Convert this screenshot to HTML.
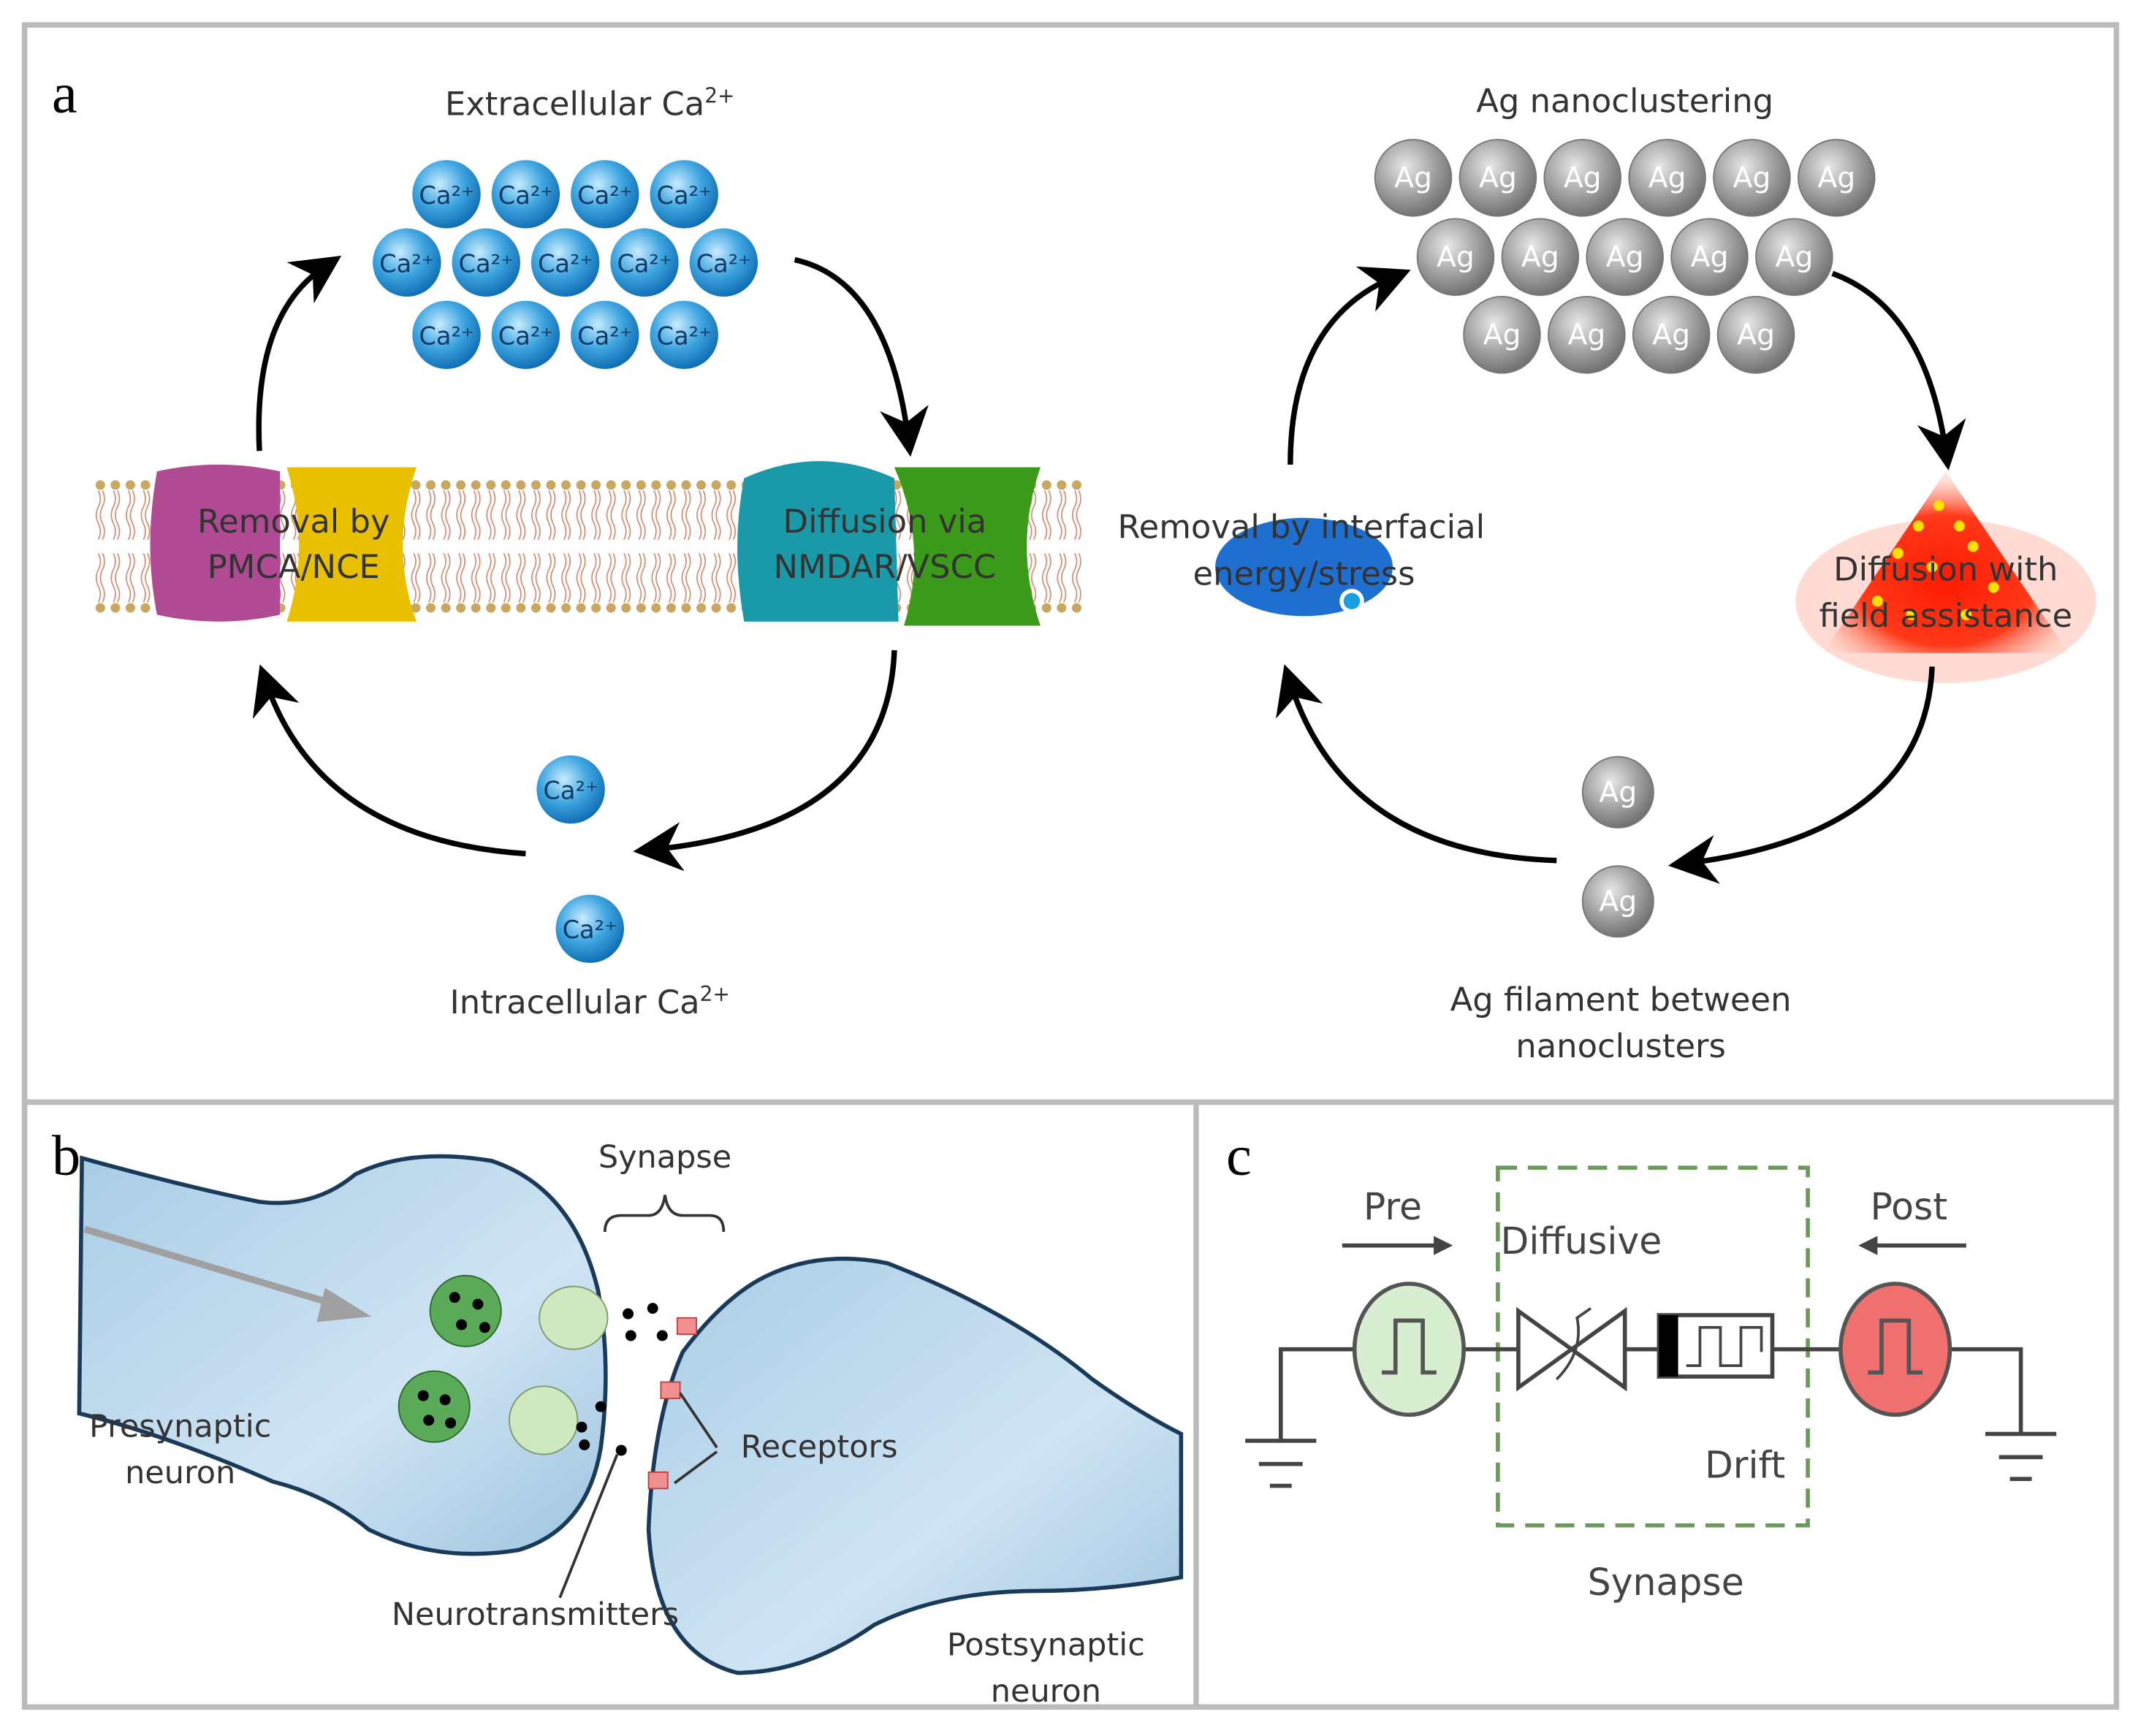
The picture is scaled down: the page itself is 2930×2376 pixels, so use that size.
<!DOCTYPE html>
<html><head><meta charset="utf-8"><style>
html,body{margin:0;padding:0;background:#fff}
svg{display:block}
text{font-family:"DejaVu Sans","Liberation Sans",sans-serif}
.s{font-family:"Liberation Serif",serif}
</style></head><body>
<svg width="2930" height="2376" viewBox="0 0 1568 1271" xmlns="http://www.w3.org/2000/svg">
<defs>
<radialGradient id="ca" cx="0.4" cy="0.35" r="0.7"><stop offset="0" stop-color="#c8ecff"/><stop offset="0.5" stop-color="#3fa6e0"/><stop offset="1" stop-color="#0b67b0"/></radialGradient>
<radialGradient id="ag" cx="0.4" cy="0.35" r="0.7"><stop offset="0" stop-color="#e8e8e8"/><stop offset="0.6" stop-color="#9a9a9a"/><stop offset="1" stop-color="#6a6a6a"/></radialGradient>
<radialGradient id="red" cx="0.5" cy="0.6" r="0.6"><stop offset="0" stop-color="#ff1a00"/><stop offset="0.6" stop-color="#ff3a1a"/><stop offset="1" stop-color="#ffd0c0" stop-opacity="0.3"/></radialGradient>
<linearGradient id="neu" x1="0" y1="0" x2="1" y2="1"><stop offset="0" stop-color="#a9cde6"/><stop offset="0.6" stop-color="#cfe4f3"/><stop offset="1" stop-color="#9ec4e0"/></linearGradient>
<marker id="ah" viewBox="0 0 10 10" refX="6" refY="5" markerWidth="9" markerHeight="9" orient="auto"><path d="M0,0 L10,5 L0,10 L3,5 z" fill="#000"/></marker>
<pattern id="lip" x="68" y="350" width="11" height="100" patternUnits="userSpaceOnUse">
<circle cx="5.5" cy="5" r="3.5" fill="#c8a860"/><circle cx="5.5" cy="95" r="3.5" fill="#c8a860"/>
<path d="M4,9 q3,6 0,12 q-3,6 0,12 q3,6 0,12 M7,9 q3,6 0,12 q-3,6 0,12 q3,6 0,12 M4,91 q3,-6 0,-12 q-3,-6 0,-12 q3,-6 0,-12 M7,91 q3,-6 0,-12 q-3,-6 0,-12 q3,-6 0,-12" stroke="#d08a70" stroke-width="0.9" fill="none"/>
</pattern>
</defs>
<rect width="1568" height="1271" fill="#fff"/>
<rect x="18" y="18" width="1532" height="1232" fill="none" stroke="#bbb" stroke-width="4"/>
<line x1="18" y1="807" x2="1550" y2="807" stroke="#bbb" stroke-width="4"/>
<line x1="876" y1="807" x2="876" y2="1250" stroke="#bbb" stroke-width="4"/>
<text x="38" y="82" class="s" font-size="42">a</text>
<text x="38" y="860" class="s" font-size="42">b</text>
<text x="898" y="860" class="s" font-size="42">c</text>

<text x="432" y="84" font-size="24" text-anchor="middle" fill="#333">Extracellular Ca<tspan font-size="15" dy="-9">2+</tspan></text>
<g fill="url(#ca)">
<circle cx="327" cy="142" r="25"/><circle cx="385" cy="142" r="25"/><circle cx="443" cy="142" r="25"/><circle cx="501" cy="142" r="25"/>
<circle cx="298" cy="192" r="25"/><circle cx="356" cy="192" r="25"/><circle cx="414" cy="192" r="25"/><circle cx="472" cy="192" r="25"/><circle cx="530" cy="192" r="25"/>
<circle cx="327" cy="245" r="25"/><circle cx="385" cy="245" r="25"/><circle cx="443" cy="245" r="25"/><circle cx="501" cy="245" r="25"/>
<circle cx="418" cy="578" r="25"/><circle cx="432" cy="680" r="25"/>
</g>
<g font-size="18" fill="#103a66" text-anchor="middle">
<text x="327" y="149">Ca²⁺</text><text x="385" y="149">Ca²⁺</text><text x="443" y="149">Ca²⁺</text><text x="501" y="149">Ca²⁺</text>
<text x="298" y="199">Ca²⁺</text><text x="356" y="199">Ca²⁺</text><text x="414" y="199">Ca²⁺</text><text x="472" y="199">Ca²⁺</text><text x="530" y="199">Ca²⁺</text>
<text x="327" y="252">Ca²⁺</text><text x="385" y="252">Ca²⁺</text><text x="443" y="252">Ca²⁺</text><text x="501" y="252">Ca²⁺</text>
<text x="418" y="585">Ca²⁺</text><text x="432" y="687">Ca²⁺</text>
</g>
<rect x="68" y="350" width="724" height="100" fill="url(#lip)"/>
<path d="M115,345 Q160,335 205,345 L205,450 Q160,460 115,450 Q105,400 115,345z" fill="#b04a92"/>
<path d="M210,342 L305,342 Q285,400 305,455 L210,455 Q228,400 210,342z" fill="#e8c000"/>
<path d="M545,350 Q600,325 655,350 L658,455 L545,455 Q535,400 545,350z" fill="#1a9aa8"/>
<path d="M655,342 L762,342 Q742,400 762,458 L662,458 Q680,400 655,342z" fill="#3c9a1a"/>
<g font-size="24" fill="#333" text-anchor="middle">
<text x="215" y="390">Removal  by</text><text x="215" y="423">PMCA/NCE</text>
<text x="648" y="390">Diffusion via</text><text x="648" y="423">NMDAR/VSCC</text>
<text x="432" y="742">Intracellular Ca<tspan font-size="15" dy="-9">2+</tspan></text>
</g>
<g fill="none" stroke="#000" stroke-width="4" marker-end="url(#ah)">
<path d="M190,330 Q185,230 238,195"/>
<path d="M582,190 Q650,205 665,320"/>
<path d="M655,476 Q650,605 478,622"/>
<path d="M385,625 Q235,615 195,500"/>
</g>

<text x="1190" y="82" font-size="24" text-anchor="middle" fill="#333">Ag nanoclustering</text>
<g fill="url(#ag)" stroke="#777" stroke-width="1">
<circle cx="1035" cy="130" r="28"/><circle cx="1097" cy="130" r="28"/><circle cx="1159" cy="130" r="28"/><circle cx="1221" cy="130" r="28"/><circle cx="1283" cy="130" r="28"/><circle cx="1345" cy="130" r="28"/>
<circle cx="1066" cy="188" r="28"/><circle cx="1128" cy="188" r="28"/><circle cx="1190" cy="188" r="28"/><circle cx="1252" cy="188" r="28"/><circle cx="1314" cy="188" r="28"/>
<circle cx="1100" cy="245" r="28"/><circle cx="1162" cy="245" r="28"/><circle cx="1224" cy="245" r="28"/><circle cx="1286" cy="245" r="28"/>
<circle cx="1185" cy="580" r="26"/><circle cx="1185" cy="660" r="26"/>
</g>
<g font-size="21" fill="#fff" text-anchor="middle">
<text x="1035" y="137">Ag</text><text x="1097" y="137">Ag</text><text x="1159" y="137">Ag</text><text x="1221" y="137">Ag</text><text x="1283" y="137">Ag</text><text x="1345" y="137">Ag</text>
<text x="1066" y="195">Ag</text><text x="1128" y="195">Ag</text><text x="1190" y="195">Ag</text><text x="1252" y="195">Ag</text><text x="1314" y="195">Ag</text>
<text x="1100" y="252">Ag</text><text x="1162" y="252">Ag</text><text x="1224" y="252">Ag</text><text x="1286" y="252">Ag</text>
<text x="1185" y="587">Ag</text><text x="1185" y="667">Ag</text>
</g>
<ellipse cx="955" cy="415" rx="65" ry="36" fill="#1e6fd0"/>
<circle cx="990" cy="440" r="9" fill="#fff"/><circle cx="990" cy="440" r="6" fill="#1aa0e0"/>
<ellipse cx="1425" cy="440" rx="110" ry="60" fill="#ffb8a8" opacity="0.5"/>
<path d="M1425,345 L1335,478 L1515,478z" fill="url(#red)"/>
<g fill="#ffe000"><circle cx="1420" cy="370" r="4"/><circle cx="1405" cy="385" r="4"/><circle cx="1435" cy="385" r="4"/><circle cx="1390" cy="405" r="4"/><circle cx="1445" cy="400" r="4"/><circle cx="1415" cy="415" r="4"/><circle cx="1440" cy="450" r="4"/><circle cx="1400" cy="450" r="4"/><circle cx="1375" cy="440" r="4"/><circle cx="1460" cy="430" r="4"/></g>
<g font-size="24" fill="#333" text-anchor="middle">
<text x="953" y="394">Removal by interfacial</text><text x="955" y="428">energy/stress</text>
<text x="1425" y="425">Diffusion with</text><text x="1425" y="459">field assistance</text>
<text x="1187" y="740">Ag filament between</text><text x="1187" y="774">nanoclusters</text>
</g>
<g fill="none" stroke="#000" stroke-width="4" marker-end="url(#ah)">
<path d="M945,340 Q945,235 1020,203"/>
<path d="M1342,200 Q1410,225 1425,330"/>
<path d="M1415,488 Q1410,610 1236,632"/>
<path d="M1140,630 Q985,625 945,500"/>
</g>

<path d="M60,848 Q140,870 190,880 Q230,885 260,860 Q300,840 360,850 Q420,870 438,945 Q448,1000 440,1060 Q430,1120 380,1135 Q320,1145 270,1120 Q240,1095 200,1085 Q120,1050 58,1035z" fill="url(#neu)" stroke="#1a3a5a" stroke-width="3"/>
<path d="M500,990 Q530,950 560,935 Q600,915 650,925 Q740,960 800,1010 Q835,1035 865,1050 L865,1155 Q810,1165 760,1165 Q690,1165 640,1190 Q590,1225 540,1225 Q480,1210 475,1120 Q478,1040 500,990z" fill="url(#neu)" stroke="#1a3a5a" stroke-width="3"/>
<path d="M62,900 L245,955" stroke="#a0a0a0" stroke-width="5"/><path d="M238,943 L272,964 L232,968z" fill="#a0a0a0"/>
<circle cx="341" cy="960" r="26" fill="#5aaa5a" stroke="#2a6a2a"/><circle cx="318" cy="1030" r="26" fill="#5aaa5a" stroke="#2a6a2a"/>
<g fill="#000"><circle cx="333" cy="950" r="4"/><circle cx="350" cy="955" r="4"/><circle cx="338" cy="970" r="4"/><circle cx="355" cy="972" r="4"/><circle cx="310" cy="1022" r="4"/><circle cx="326" cy="1025" r="4"/><circle cx="314" cy="1040" r="4"/><circle cx="330" cy="1042" r="4"/></g>
<ellipse cx="420" cy="965" rx="25" ry="23" fill="#cfe8c0" stroke="#7a9a6a"/><ellipse cx="398" cy="1040" rx="25" ry="25" fill="#cfe8c0" stroke="#7a9a6a"/>
<g fill="#000"><circle cx="460" cy="962" r="4"/><circle cx="478" cy="958" r="4"/><circle cx="462" cy="978" r="4"/><circle cx="485" cy="978" r="4"/><circle cx="440" cy="1030" r="4"/><circle cx="426" cy="1045" r="4"/><circle cx="428" cy="1058" r="4"/><circle cx="455" cy="1062" r="4"/></g>
<g fill="#f09090" stroke="#c04040"><rect x="496" y="965" width="14" height="12"/><rect x="484" y="1012" width="14" height="12"/><rect x="475" y="1078" width="14" height="12"/></g>
<path d="M443,902 Q443,890 455,890 L475,890 Q485,890 487,875 Q489,890 500,890 L520,890 Q530,890 530,902" fill="none" stroke="#333" stroke-width="2"/>
<path d="M498,1020 L525,1060 M494,1086 L525,1063" stroke="#333" stroke-width="2" fill="none"/>
<path d="M410,1170 L452,1065" stroke="#333" stroke-width="2"/>
<g font-size="23" fill="#333" text-anchor="middle">
<text x="487" y="855">Synapse</text>
<text x="600" y="1067">Receptors</text>
<text x="132" y="1052">Presynaptic</text><text x="132" y="1086">neuron</text>
<text x="392" y="1190">Neurotransmitters</text>
<text x="766" y="1212">Postsynaptic</text><text x="766" y="1246">neuron</text>
</g>

<rect x="1097" y="855" width="227" height="262" fill="none" stroke="#6a9a5a" stroke-width="3" stroke-dasharray="14,8"/>
<path d="M938,1055 L938,988 L992,988 M1072,988 L1112,988 M1190,988 L1215,988 M1298,988 L1350,988 M1428,988 L1480,988 L1480,1050" stroke="#444" stroke-width="3" fill="none"/>
<g stroke="#444" stroke-width="3"><line x1="912" y1="1055" x2="964" y2="1055"/><line x1="922" y1="1072" x2="954" y2="1072"/><line x1="930" y1="1088" x2="946" y2="1088"/>
<line x1="1454" y1="1050" x2="1506" y2="1050"/><line x1="1464" y1="1067" x2="1496" y2="1067"/><line x1="1472" y1="1083" x2="1488" y2="1083"/></g>
<ellipse cx="1032" cy="988" rx="40" ry="48" fill="#d8eed0" stroke="#555" stroke-width="3"/>
<path d="M1012,1005 L1022,1005 L1022,967 L1042,967 L1042,1005 L1052,1005" stroke="#555" stroke-width="3" fill="none"/>
<ellipse cx="1388" cy="988" rx="40" ry="48" fill="#f07070" stroke="#555" stroke-width="3"/>
<path d="M1368,1005 L1378,1005 L1378,967 L1398,967 L1398,1005 L1408,1005" stroke="#555" stroke-width="3" fill="none"/>
<path d="M1112,960 L1112,1016 L1190,960 L1190,1016z" fill="none" stroke="#444" stroke-width="3"/>
<path d="M1140,1010 Q1160,990 1155,965 L1165,958" fill="none" stroke="#444" stroke-width="2"/>
<rect x="1215" y="963" width="83" height="45" fill="none" stroke="#444" stroke-width="3"/>
<rect x="1215" y="963" width="14" height="45" fill="#000"/>
<path d="M1235,1000 L1245,1000 L1245,972 L1260,972 L1260,1000 L1275,1000 L1275,972 L1290,972 L1290,990" fill="none" stroke="#444" stroke-width="2"/>
<path d="M983,912 L1055,912" stroke="#444" stroke-width="3"/><path d="M1050,905 L1064,912 L1050,919z" fill="#444"/>
<path d="M1370,912 L1440,912" stroke="#444" stroke-width="3"/><path d="M1375,905 L1361,912 L1375,919z" fill="#444"/>
<g font-size="27" fill="#444" text-anchor="middle">
<text x="1020" y="893">Pre</text><text x="1398" y="893">Post</text>
<text x="1158" y="918">Diffusive</text><text x="1278" y="1082">Drift</text>
<text x="1220" y="1168">Synapse</text>
</g>
</svg>
</body></html>
